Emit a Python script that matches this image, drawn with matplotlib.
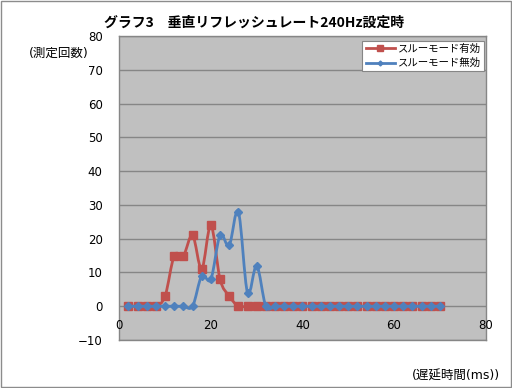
import matplotlib
matplotlib.use("Agg")
import matplotlib.pyplot as plt
import numpy as np
from matplotlib.path import Path
from matplotlib.patches import PathPatch, Rectangle
from matplotlib.lines import Line2D

plt.rcParams['font.family'] = ['DejaVu Sans', 'Noto Sans CJK JP']

title = "グラフ3　垂直リフレッシュレート240Hz設定時"
ylabel = "(測定回数)"
xlabel = "(遅延時間(ms))"
series_names = ["スルーモード有効", "スルーモード無効"]

x_vals = list(range(2, 72, 2))  # 2..70
red_vals = [0, 0, 0, 0, 3, 15, 15, 21, 11, 24, 8, 3] + [0] * 23
blue_vals = [0, 0, 0, 0, 0, 0, 0, 0, 9, 8, 21, 18, 28, 4, 12] + [0] * 20

x_ticks = [0, 20, 40, 60, 80]
y_ticks = [-10, 0, 10, 20, 30, 40, 50, 60, 70, 80]

RED = "#C0504D"
BLUE = "#4F81BD"

fig = plt.figure(figsize=(5.12, 3.88), dpi=100)
fig.patch.set_facecolor("white")
fig.add_artist(Rectangle((0.001, 0.002), 0.997, 0.996, transform=fig.transFigure,
                         fill=False, edgecolor="#8c8c8c", linewidth=1.0))

ax = fig.add_axes([0.233, 0.1237, 0.7155, 0.7835])
ax.set_facecolor("#C0C0C0")
ax.set_xlim(0, 80)
ax.set_ylim(-10, 80)
ax.set_yticks(y_ticks)
ax.set_xticks(x_ticks)
ax.grid(axis="y", color="#868686", linewidth=1.0)
ax.set_axisbelow(True)
for s in ax.spines.values():
    s.set_color("#868686")
    s.set_linewidth(1.0)
ax.tick_params(axis="both", length=0, labelsize=8.5, colors="black")
ax.tick_params(axis="y", pad=12)
ax.set_xticklabels([])
for t in x_ticks:
    ax.annotate(str(t), xy=(t, 0), xytext=(0, -9), textcoords="offset points",
                ha="center", va="top", fontsize=8.5, annotation_clip=False)


def smooth_path(xs, ys):
    xs = np.asarray(xs, float)
    ys = np.asarray(ys, float)
    n = len(xs)
    verts = [(xs[0], ys[0])]
    codes = [Path.MOVETO]
    for i in range(n - 1):
        p0 = (xs[max(i - 1, 0)], ys[max(i - 1, 0)])
        p1 = (xs[i], ys[i])
        p2 = (xs[i + 1], ys[i + 1])
        p3 = (xs[min(i + 2, n - 1)], ys[min(i + 2, n - 1)])
        c1 = (p1[0] + (p2[0] - p0[0]) / 6, p1[1] + (p2[1] - p0[1]) / 6)
        c2 = (p2[0] - (p3[0] - p1[0]) / 6, p2[1] - (p3[1] - p1[1]) / 6)
        verts += [c1, c2, p2]
        codes += [Path.CURVE4] * 3
    return Path(verts, codes)


ax.add_patch(PathPatch(smooth_path(x_vals, red_vals), fill=False,
                       edgecolor=RED, linewidth=2.0, zorder=3))
ax.plot(x_vals, red_vals, linestyle="none", marker="s", markersize=5.2,
        color=RED, zorder=4)
ax.add_patch(PathPatch(smooth_path(x_vals, blue_vals), fill=False,
                       edgecolor=BLUE, linewidth=2.0, zorder=5))
ax.plot(x_vals, blue_vals, linestyle="none", marker="D", markersize=4.0,
        color=BLUE, zorder=6)

handles = [Line2D([], [], color=RED, linewidth=2.0, marker="s", markersize=4),
           Line2D([], [], color=BLUE, linewidth=2.0, marker="D", markersize=2.5)]
leg = ax.legend(handles, series_names, loc="upper right",
                bbox_to_anchor=(1.004, 0.995),
                prop={"family": ["Noto Sans CJK JP"], "size": 7.5},
                frameon=True, fancybox=False, framealpha=1.0,
                edgecolor="#868686", handlelength=2.8, handletextpad=0.3,
                borderpad=0.3, labelspacing=0.4, borderaxespad=0.3)
leg.get_frame().set_linewidth(0.8)

fig.text(0.497, 0.941, title, ha="center", va="center", fontsize=10,
         fontweight="bold", family=["Noto Sans CJK JP"])
fig.text(0.115, 0.864, ylabel, ha="center", va="center", fontsize=9,
         family=["DejaVu Sans", "Noto Sans CJK JP"])
fig.text(0.976, 0.031, xlabel, ha="right", va="center", fontsize=9,
         family=["DejaVu Sans", "Noto Sans CJK JP"])

fig.savefig("out.png", dpi=100)
